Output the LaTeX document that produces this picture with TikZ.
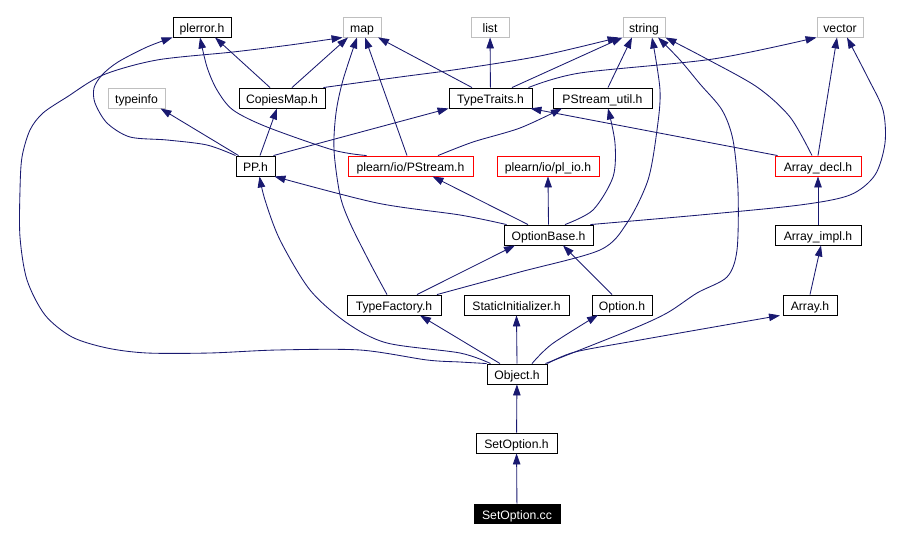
\documentclass[tikz,border=0pt]{standalone}
\usepackage{fontspec}
\setmainfont{Liberation Sans}
\usetikzlibrary{arrows.meta}
\definecolor{edgec}{RGB}{25,25,112}
\definecolor{grayc}{RGB}{191,191,191}
\definecolor{redc}{RGB}{255,0,0}
\tikzset{
  box/.style={draw=black, line width=0.9pt, minimum height=20pt, inner sep=0pt, text height=11.5pt, text depth=0pt, anchor=center, font=\fontsize{12.2}{14}\selectfont},
  extbox/.style={box, draw=grayc},
  redbox/.style={box, draw=redc},
  mainbox/.style={box, fill=black, text=white, minimum height=19pt},
  edge/.style={draw=edgec, line width=0.85pt, -{Triangle[length=11pt,width=7.5pt]}},
}
\begin{document}
\begin{tikzpicture}[x=1pt,y=-1pt]
\useasboundingbox (0,0) rectangle (916,540);
\fill[white] (0,0) rectangle (916,540);
% top row
\node[box, minimum width=58pt] (plerror) at (202,27) {plerror.h};
\node[extbox, minimum width=38pt] (map) at (362,27) {map};
\node[extbox, minimum width=38pt] (list) at (490,27) {list};
\node[extbox, minimum width=42pt] (string) at (644,27) {string};
\node[extbox, minimum width=46pt] (vector) at (840,27) {vector};
% row 2
\node[extbox, minimum width=57pt] (typeinfo) at (136.5,98) {typeinfo};
\node[box, minimum width=86pt] (copies) at (282,98) {CopiesMap.h};
\node[box, minimum width=83pt] (tt) at (490.5,98) {TypeTraits.h};
\node[box, minimum width=99pt] (psu) at (602.5,98) {PStream\_util.h};
% row 3
\node[box, minimum width=39pt] (pp) at (255.5,166) {PP.h};
\node[redbox, minimum width=125pt] (ps) at (410.5,166) {plearn/io/PStream.h};
\node[redbox, minimum width=102pt] (plio) at (548,166) {plearn/io/pl\_io.h};
\node[redbox, minimum width=86pt] (ad) at (818,166) {Array\_decl.h};
% row 4
\node[box, minimum width=89pt] (ob) at (548.5,235) {OptionBase.h};
\node[box, minimum width=86pt] (ai) at (818,235) {Array\_impl.h};
% row 5
\node[box, minimum width=94pt] (tf) at (394,305) {TypeFactory.h};
\node[box, minimum width=105pt] (si) at (516.5,305) {StaticInitializer.h};
\node[box, minimum width=60pt] (opt) at (622,305) {Option.h};
\node[box, minimum width=54pt] (arr) at (810,305) {Array.h};
% lower
\node[box, minimum width=60pt] (obj) at (517,374) {Object.h};
\node[box, minimum width=81pt] (seth) at (516.5,443) {SetOption.h};
\node[mainbox, minimum width=86pt] (cc) at (517,513.5) {SetOption.cc};

% edges
\draw[edge] (cc) -- (seth);
\draw[edge] (seth) -- (obj);
\draw[edge] ([xshift=-17]obj.north) -- ([xshift=26]tf.south);
\draw[edge] (obj.north) -- (si.south);
\draw[edge] plot[smooth] coordinates {([xshift=15]obj.north) (552,344) (598,315)};
\draw[edge] plot[smooth] coordinates {(obj.north east) (575,352) (640,340) ([xshift=-30]arr.south)};
\draw[edge] plot[smooth] coordinates {([xshift=-2]obj.north east) (630,330) (667,313) (697,293) (727,277) (737,250) (738,190) (733,140) (722,110) (700,84) (680,60) ([xshift=14]string.south)};
\draw[edge] plot[smooth] coordinates {([xshift=4]obj.north west) (460,353) (387,343) (347,323) (310,290) (280,240) (265,200) ([xshift=4]pp.south)};
\draw[edge] plot[smooth] coordinates {(obj.north west) (460,362) (427,360) (360,350) (277,350) (210,353) (147,353) (107,348) (72,337) (45,315) (27,280) (20,237) (20,190) (22,157) (30,130) (43,113) (67,97) (103,75) (157,60) (233,52) (290,45) (map.south west)};
\draw[edge] ([xshift=-10]opt.north) -- ([xshift=14.5]ob.south);
\draw[edge] ([xshift=23]tf.north) -- ([xshift=-33.5]ob.south);
\draw[edge] plot[smooth] coordinates {([xshift=43]tf.north) (520,272) (600,250) (627,223) (648,180) (657,130) (660,90) ([xshift=8]string.south)};
\draw[edge] plot[smooth] coordinates {([xshift=-7]tf.north) (370,263) (350,223) (340,195) (334,150) (336,113) (343,80) ([xshift=-5]map.south)};
\draw[edge] plot[smooth] coordinates {([xshift=3]ob.north west) (460,215) (377,203) ([xshift=-1]pp.south east)};
\draw[edge] ([xshift=-20.5]ob.north) -- ([xshift=22]ps.south);
\draw[edge] (ob.north) -- (plio.south);
\draw[edge] plot[smooth] coordinates {([xshift=16.5]ob.north) (593,210) (613,177) (615,143) ([xshift=5.5]psu.south)};
\draw[edge] plot[smooth] coordinates {([xshift=-3]ob.north east) (700,215) (800,205) (850,195) (875,175) (885,143) (883,110) (868,78) ([xshift=7]vector.south)};
\draw[edge] plot[smooth] coordinates {([xshift=-6]ad.north) (790,117) (757,87) (705,58) (string.south east)};
\draw[edge] (ad.north) -- ([xshift=-3]vector.south);
\draw[edge] ([xshift=3]ad.north west) -- ([xshift=-2]tt.south east);
\draw[edge] (arr.north) -- ([xshift=3]ai.south);
\draw[edge] (ai) -- (ad);
\draw[edge] plot[smooth] coordinates {([xshift=27.5]ps.north) (473,142) (520,128) ([xshift=-40.5]psu.south)};
\draw[edge] plot[smooth] coordinates {([xshift=19]ps.north west) (333,150) (267,127) (233,110) (217,90) (207,67) ([xshift=-2]plerror.south)};
\draw[edge] ([xshift=-3.5]ps.north) -- ([xshift=3]map.south);
\draw[edge] plot[smooth] coordinates {(pp.north west) (207,145) (167,140) (130,137) (107,123) (95,103) (94,88) (102,75) (118,62) (147,47) ([xshift=0]plerror.south west)};
\draw[edge] ([xshift=3]pp.north west) -- ([xshift=24]typeinfo.south);
\draw[edge] ([xshift=4.5]pp.north) -- ([xshift=-5]copies.south);
\draw[edge] ([xshift=-2]pp.north east) -- (tt.south west);
\draw[edge] ([xshift=-12]copies.north) -- ([xshift=13]plerror.south);
\draw[edge] ([xshift=10]copies.north) -- ([xshift=-14]map.south);
\draw[edge] plot[smooth] coordinates {([xshift=-2]copies.north east) (400,77) (460,69) (540,56) ([xshift=-4]string.south west)};
\draw[edge] ([xshift=-18.5]tt.north) -- ([xshift=16]map.south);
\draw[edge] (tt) -- (list);
\draw[edge] ([xshift=21.5]tt.north) -- (string.south west);
\draw[edge] plot[smooth] coordinates {([xshift=-4]tt.north east) (580,73) (713,59) (vector.south west)};
\draw[edge] ([xshift=5.5]psu.north) -- ([xshift=-12]string.south);
\end{tikzpicture}
\end{document}
